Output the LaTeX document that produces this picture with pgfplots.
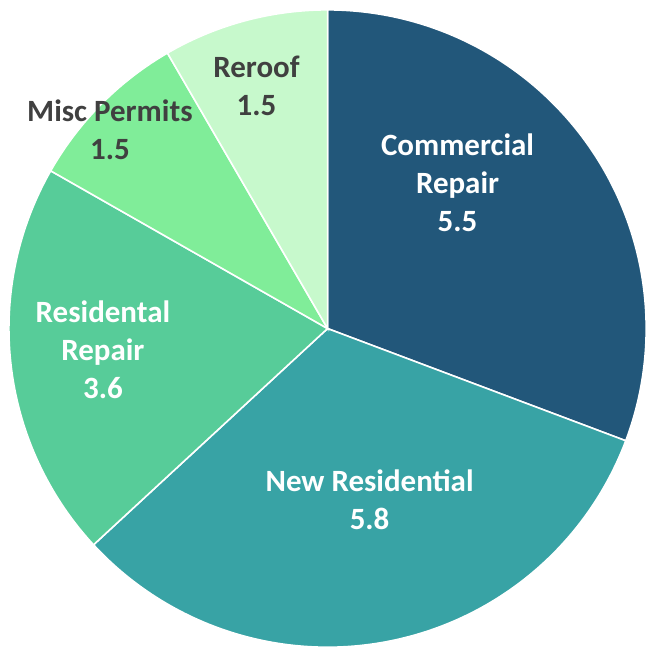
\documentclass[border=0pt]{standalone}
\usepackage{pgfplots}
\pgfplotsset{compat=1.18}
\usepackage{fontspec}
\setmainfont{Carlito}
\definecolor{cA}{HTML}{22577A}
\definecolor{cB}{HTML}{38A3A5}
\definecolor{cC}{HTML}{57CC99}
\definecolor{cD}{HTML}{80ED99}
\definecolor{cE}{HTML}{C7F9CC}
\definecolor{txtdark}{HTML}{404040}
\tikzset{lbl/.style={font=\bfseries\fontsize{15.5}{19}\selectfont, align=center, inner sep=0pt}}
% values
\def\vA{5.5}% Commercial Repair
\def\vB{5.8}% New Residential
\def\vC{3.6}% Residental Repair
\def\vD{1.5}% Misc Permits
\def\vE{1.5}% Reroof
\pgfmathsetmacro{\tot}{\vA+\vB+\vC+\vD+\vE}
\pgfmathsetmacro{\aA}{90}
\pgfmathsetmacro{\aB}{\aA-\vA/\tot*360}
\pgfmathsetmacro{\aC}{\aB-\vB/\tot*360}
\pgfmathsetmacro{\aD}{\aC-\vC/\tot*360}
\pgfmathsetmacro{\aE}{\aD-\vD/\tot*360}
\pgfmathsetmacro{\aF}{\aE-\vE/\tot*360}
\begin{document}
\begin{tikzpicture}
\begin{axis}[
  scale only axis, width=323pt, height=324pt,
  xmin=-1.028, xmax=0.997, ymin=-1.0, ymax=1.031,
  hide axis, clip=false,
]
\path (rel axis cs:0,0) rectangle (rel axis cs:1,1);
\addplot[fill=cA, draw=white, line width=0.8pt, domain=\aB:\aA, samples=120] ({cos(x)},{sin(x)}) -- (0,0) -- cycle;
\addplot[fill=cB, draw=white, line width=0.8pt, domain=\aC:\aB, samples=120] ({cos(x)},{sin(x)}) -- (0,0) -- cycle;
\addplot[fill=cC, draw=white, line width=0.8pt, domain=\aD:\aC, samples=100] ({cos(x)},{sin(x)}) -- (0,0) -- cycle;
\addplot[fill=cD, draw=white, line width=0.8pt, domain=\aE:\aD, samples=60] ({cos(x)},{sin(x)}) -- (0,0) -- cycle;
\addplot[fill=cE, draw=white, line width=0.8pt, domain=\aF:\aE, samples=60] ({cos(x)},{sin(x)}) -- (0,0) -- cycle;
\node[lbl, text=white] at (axis cs:0.408,0.458) {Commercial\\Repair\\5.5};
\node[lbl, text=white] at (axis cs:0.132,-0.536) {New Residential\\5.8};
\node[lbl, text=white] at (axis cs:-0.705,-0.066) {Residental\\Repair\\3.6};
\node[lbl, text=txtdark] at (axis cs:-0.683,0.624) {Misc Permits\\1.5};
\node[lbl, text=txtdark] at (axis cs:-0.223,0.762) {Reroof\\1.5};
\end{axis}
\end{tikzpicture}
\end{document}
